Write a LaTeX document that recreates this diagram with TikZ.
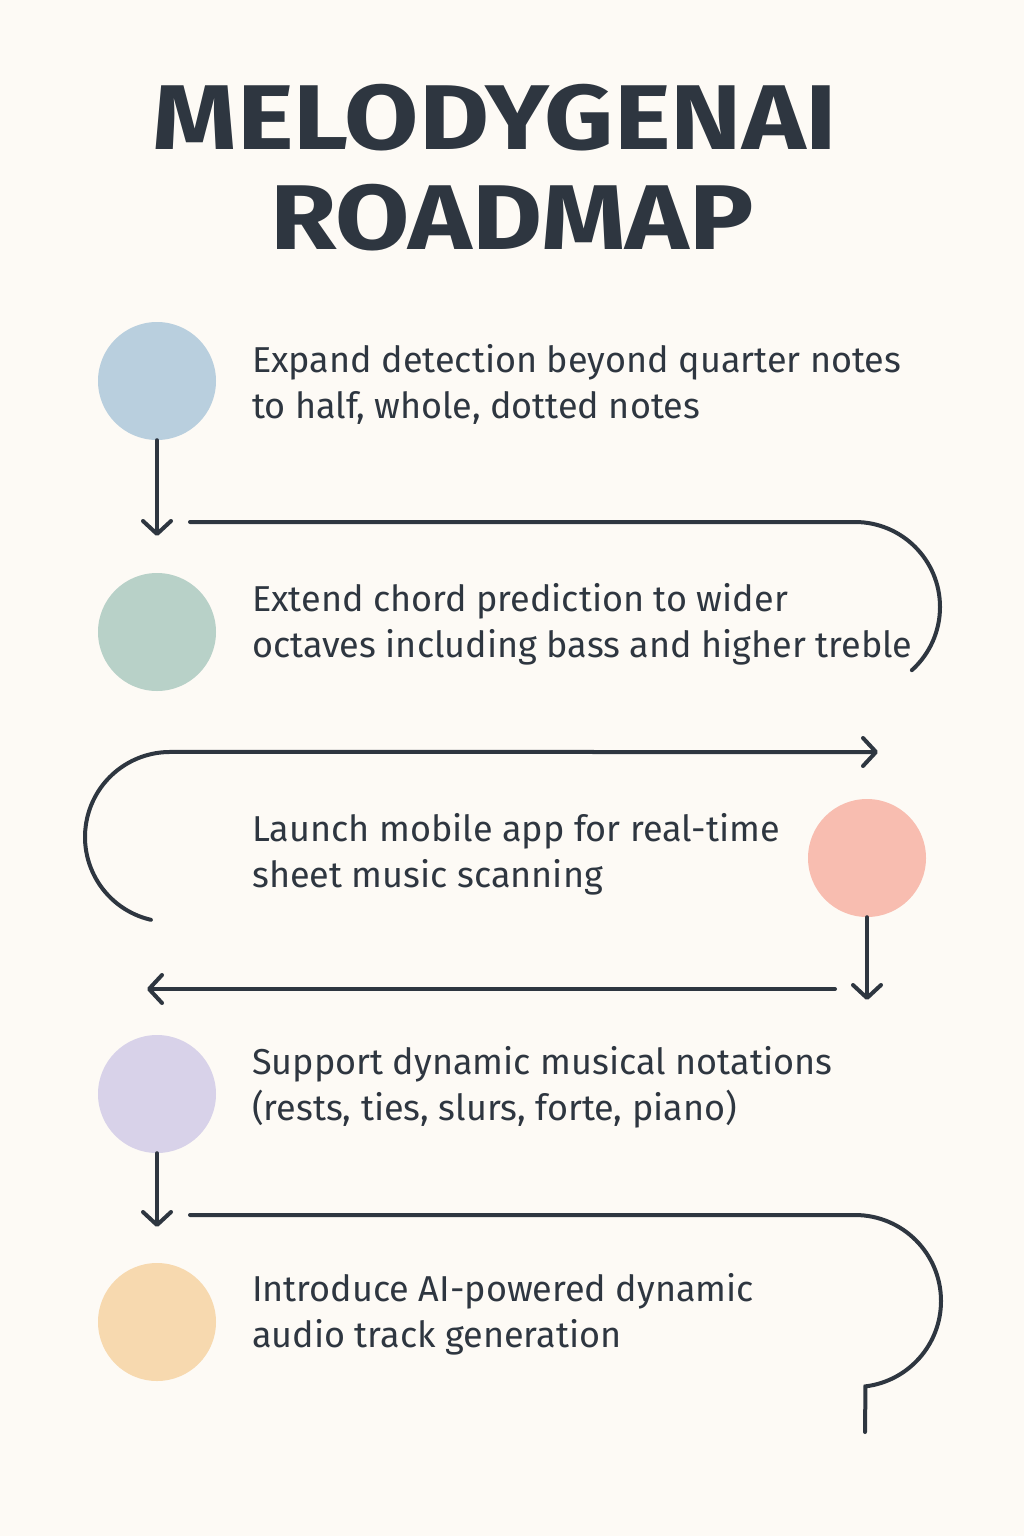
\documentclass[tikz,border=0pt]{standalone}
\usepackage{fontspec}
\setmainfont{Fira Sans}
\usetikzlibrary{arrows.meta}
\definecolor{paper}{HTML}{FDFAF5}
\definecolor{ink}{HTML}{2E3640}
\definecolor{dotblue}{HTML}{B9CFDE}
\definecolor{dotgreen}{HTML}{B8D1C8}
\definecolor{dotsalmon}{HTML}{F8BDB0}
\definecolor{dotlilac}{HTML}{D8D2E9}
\definecolor{dotpeach}{HTML}{F7D9AF}
\begin{document}
\begin{tikzpicture}[x=1pt,y=-1pt,
  stepdot/.style={circle,minimum size=118pt,inner sep=0pt},
  steptext/.style={anchor=west,align=left,inner sep=0pt,text=ink,font=\fontsize{36}{46}\selectfont},
  titletext/.style={text=ink,inner sep=0pt,xscale=1.17,font=\fontsize{92}{100}\selectfont\bfseries},
  flow/.style={draw=ink,line width=4pt,line cap=round},
  flowtip/.style={-{Straight Barb[length=13pt,width=28pt,round]}}]
\fill[paper] (0,0) rectangle (1024,1536);
\useasboundingbox (0,0) rectangle (1024,1536);
% Title
\node[titletext] (title1) at (495,118) {MELODYGENAI};
\node[titletext] (title2) at (512,218) {ROADMAP};
% Step 1
\node[stepdot,fill=dotblue] (dot1) at (157,381) {};
\node[steptext] (text1) at (252,384) {Expand detection beyond quarter notes\\to half, whole, dotted notes};
\coordinate (end1) at (157,536);
\draw[flow,flowtip] (dot1.south) -- (end1);
\coordinate (run1) at (190,522);
\draw[flow] (run1) -- (855,522) arc[start angle=-90,end angle=48,radius=85];
% Step 2
\node[stepdot,fill=dotgreen] (dot2) at (157,632) {};
\node[steptext] (text2) at (252,624) {Extend chord prediction to wider\\octaves including bass and higher treble};
\coordinate (run2) at (150.9,919.8);
\coordinate (end2) at (878,752);
\draw[flow,flowtip] (run2) arc[start angle=103,end angle=270,radius=85] -- (end2);
% Step 3
\node[stepdot,fill=dotsalmon] (dot3) at (867,858) {};
\node[steptext] (text3) at (252,854) {Launch mobile app for real-time\\sheet music scanning};
\coordinate (end3) at (867,1000);
\draw[flow,flowtip] (dot3.south) -- (end3);
\coordinate (run3) at (835,989);
\coordinate (end4) at (147,989);
\draw[flow,flowtip] (run3) -- (end4);
% Step 4
\node[stepdot,fill=dotlilac] (dot4) at (157,1094) {};
\node[steptext] (text4) at (252,1087) {Support dynamic musical notations\\(rests, ties, slurs, forte, piano)};
\coordinate (end5) at (157,1227);
\draw[flow,flowtip] (dot4.south) -- (end5);
\coordinate (run4) at (190,1215);
\coordinate (end6) at (865,1432);
\draw[flow] (run4) -- (855,1215) arc[start angle=-90,end angle=83,radius=86] -- (end6);
% Step 5
\node[stepdot,fill=dotpeach] (dot5) at (157,1322) {};
\node[steptext] (text5) at (252,1314) {Introduce AI-powered dynamic\\audio track generation};
\end{tikzpicture}
\end{document}
